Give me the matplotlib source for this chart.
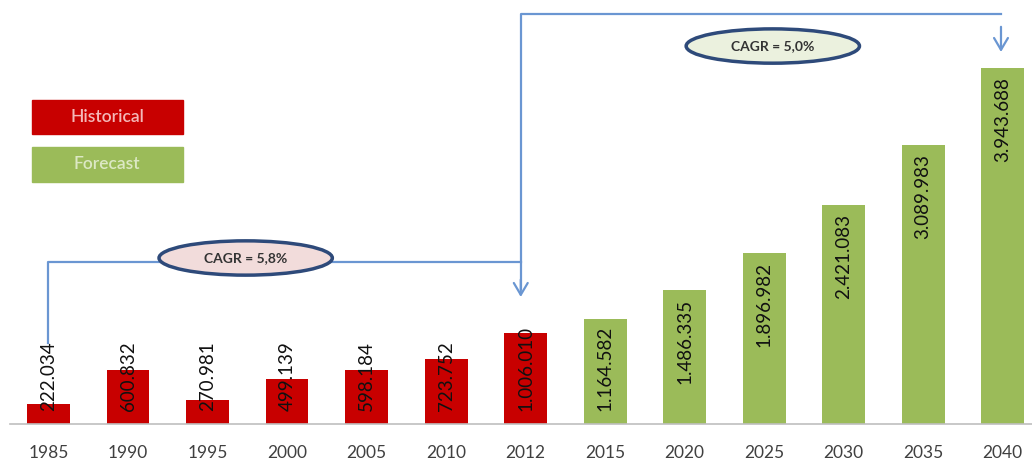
import matplotlib
matplotlib.use("Agg")
import matplotlib.pyplot as plt
from matplotlib.patches import Ellipse, Rectangle, FancyArrowPatch

plt.rcParams['font.family'] = ['Lato', 'DejaVu Sans']

# dados
years = ['1985', '1990', '1995', '2000', '2005', '2010', '2012',
         '2015', '2020', '2025', '2030', '2035', '2040']
values = [222.034, 600.832, 270.981, 499.139, 598.184, 723.752, 1006.010,
          1164.582, 1486.335, 1896.982, 2421.083, 3089.983, 3943.688]
labels = ['222.034', '600.832', '270.981', '499.139', '598.184', '723.752', '1.006.010',
          '1.164.582', '1.486.335', '1.896.982', '2.421.083', '3.089.983', '3.943.688']
n_hist = 7
cagr_hist = 'CAGR = 5,8%'
cagr_fore = 'CAGR = 5,0%'

red = '#C80000'
green = '#9BBB59'
blue = '#6A96D2'

W, H = 1032, 462
fig = plt.figure(figsize=(W / 100, H / 100), dpi=100)
ax = fig.add_axes([0, 38 / H, 1, 1 - 38 / H])

x = list(range(len(years)))
colors = [red] * n_hist + [green] * (len(years) - n_hist)
ax.bar(x, values, width=0.54, color=colors, zorder=2)

ax.set_xlim(-0.61, 12.37)
ax.set_ylim(0, 4697)
for s in ax.spines.values():
    s.set_visible(False)
ax.set_yticks([])
ax.set_xticks(x)
ax.set_xticklabels(years, fontsize=12.5, color='#404040')
ax.tick_params(axis='x', length=0, pad=15)
ax.plot([-0.48, 12.5], [0, 0], color='#BFBFBF', lw=1.2, clip_on=False, zorder=3)

# rótulos dos valores (dentro do topo, ou junto à base se não couber)
fig.canvas.draw()
r = fig.canvas.get_renderer()
px_per_unit = ax.transData.transform((0, 1))[1] - ax.transData.transform((0, 0))[1]
base = ax.transData.transform((0, 0))[1]
for xi, v, lab in zip(x, values, labels):
    t = ax.text(xi, v - 9 / px_per_unit, lab, rotation=90, ha='center', va='top',
                fontsize=13.5, color='#111111', zorder=4)
    bb = t.get_window_extent(r)
    if bb.y0 < base + 13:
        t.set_y(13 / px_per_unit)
        t.set_va('bottom')

# setas
xa1, xa2 = 5.94, 11.98
ax.plot([0, 0, xa1], [897, 1795, 1795], color=blue, lw=1.6, zorder=1)
ax.plot([xa1, xa1, xa2], [1500, 4542, 4542], color=blue, lw=1.6, zorder=1)
for xa, y0, y1 in [(xa1, 1600, 1407), (xa2, 4400, 4121)]:
    ax.add_patch(FancyArrowPatch((xa, y0), (xa, y1), arrowstyle='->,head_length=8.5,head_width=5',
                                 color=blue, lw=1.6, shrinkA=0, shrinkB=0, zorder=1))

# elipses CAGR
for cx, cy, fc, txt in [(2.48, 1839, '#F2DCDB', cagr_hist), (9.11, 4187, '#EBF1DE', cagr_fore)]:
    ax.add_patch(Ellipse((cx, cy), 2.18, 380, facecolor=fc, edgecolor='#2E4A7A', lw=2.5, zorder=5))
    ax.text(cx, cy, txt, ha='center', va='center', fontsize=10, fontweight='bold',
            color='#333333', zorder=6)

# legenda
def fig_rect(x0, y0, x1, y1, color):
    fig.add_artist(Rectangle((x0 / W, 1 - y1 / H), (x1 - x0) / W, (y1 - y0) / H,
                             transform=fig.transFigure, color=color))

fig_rect(32, 100, 183, 134, red)
fig_rect(32, 147, 183, 182, green)
fig.text(107 / W, 1 - 117 / H, 'Historical', ha='center', va='center', fontsize=12.5,
         color='#F4B8B8', fontweight='semibold')
fig.text(107 / W, 1 - 164 / H, 'Forecast', ha='center', va='center', fontsize=12.5,
         color='#DCE8C4', fontweight='semibold')

fig.savefig('out.png', dpi=100)
